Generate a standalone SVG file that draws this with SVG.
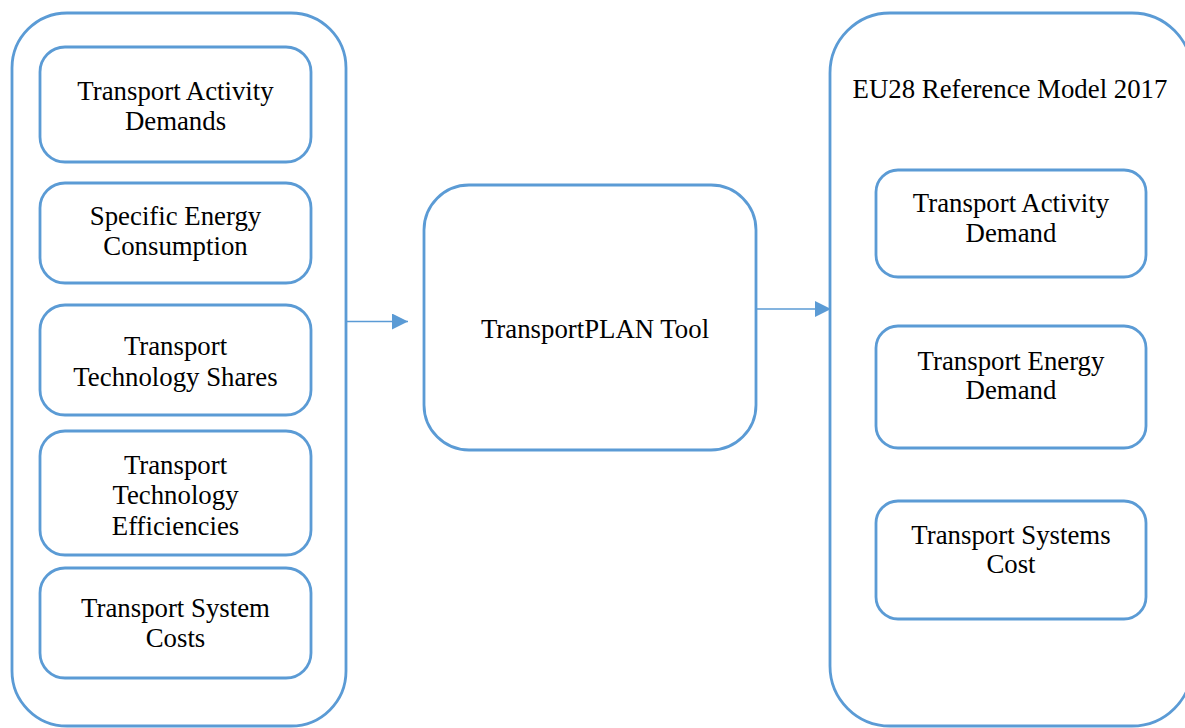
<svg xmlns="http://www.w3.org/2000/svg" width="1185" height="728" viewBox="0 0 1185 728">
<style>
.box{fill:#fff;stroke:#5B9BD5;stroke-width:2.8}
.cont{fill:none;stroke:#5B9BD5;stroke-width:2.8}
.lbl{font-family:"Liberation Serif","Times New Roman",serif;font-size:26.8px;fill:#000;text-anchor:middle}
.conn{stroke:#5B9BD5;stroke-width:1.5;fill:none}
</style>
<defs>
<marker id="ah" markerWidth="16" markerHeight="16" refX="16" refY="8" orient="auto" markerUnits="userSpaceOnUse">
<path d="M0,0 L16,8 L0,16 Z" fill="#5B9BD5"/>
</marker>
</defs>
<rect x="0" y="0" width="1185" height="728" fill="#fff"/>
<g id="left-container">
<rect class="cont" x="12" y="13" width="334" height="713" rx="55" ry="55"/>
</g>
<g id="right-container">
<rect class="cont" x="830" y="13" width="362" height="713" rx="60" ry="60"/>
<text class="lbl" x="1010" y="98">EU28 Reference Model 2017</text>
</g>
<g id="n-activity-demands">
<rect class="box" x="40" y="47" width="271" height="115" rx="25"/>
<text class="lbl" x="175.5" y="99.5">Transport Activity</text>
<text class="lbl" x="175.5" y="129.5">Demands</text>
</g>
<g id="n-specific-energy">
<rect class="box" x="40" y="183" width="271" height="100" rx="25"/>
<text class="lbl" x="175.5" y="225">Specific Energy</text>
<text class="lbl" x="175.5" y="255">Consumption</text>
</g>
<g id="n-tech-shares">
<rect class="box" x="40" y="305" width="271" height="110" rx="25"/>
<text class="lbl" x="175.5" y="355">Transport</text>
<text class="lbl" x="175.5" y="386">Technology Shares</text>
</g>
<g id="n-tech-eff">
<rect class="box" x="40" y="431" width="271" height="124" rx="25"/>
<text class="lbl" x="175.5" y="474">Transport</text>
<text class="lbl" x="175.5" y="504">Technology</text>
<text class="lbl" x="175.5" y="535">Efficiencies</text>
</g>
<g id="n-system-costs">
<rect class="box" x="40" y="568" width="271" height="110" rx="25"/>
<text class="lbl" x="175.5" y="617">Transport System</text>
<text class="lbl" x="175.5" y="647">Costs</text>
</g>
<g id="n-tool">
<rect class="box" x="424" y="185" width="332" height="265" rx="45"/>
<text class="lbl" x="595" y="338">TransportPLAN Tool</text>
</g>
<g id="n-out-activity">
<rect class="box" x="876" y="170" width="270" height="107" rx="22"/>
<text class="lbl" x="1011" y="212">Transport Activity</text>
<text class="lbl" x="1011" y="242">Demand</text>
</g>
<g id="n-out-energy">
<rect class="box" x="876" y="326" width="270" height="122" rx="22"/>
<text class="lbl" x="1011" y="370">Transport Energy</text>
<text class="lbl" x="1011" y="399">Demand</text>
</g>
<g id="n-out-cost">
<rect class="box" x="876" y="501" width="270" height="118" rx="22"/>
<text class="lbl" x="1011" y="544">Transport Systems</text>
<text class="lbl" x="1011" y="573">Cost</text>
</g>
<g id="connectors">
<line class="conn" x1="346" y1="321.5" x2="408" y2="321.5" marker-end="url(#ah)"/>
<line class="conn" x1="756" y1="309" x2="831" y2="309" marker-end="url(#ah)"/>
</g>
</svg>
